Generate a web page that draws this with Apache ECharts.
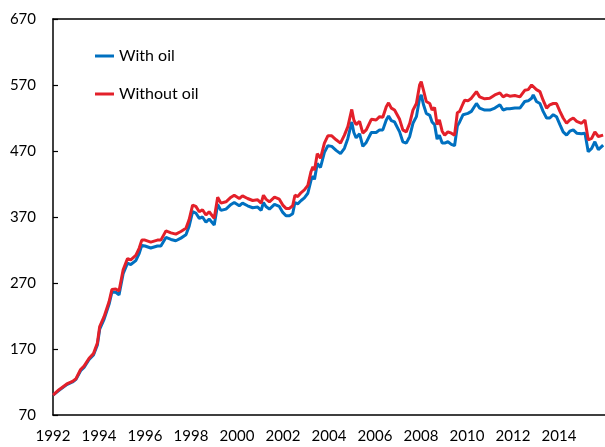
<!doctype html>
<html>

<head>
    <meta charset="utf-8">
    <title>With oil / Without oil</title>
    <script src="https://cdn.jsdelivr.net/npm/echarts@6/dist/echarts.min.js"></script>
</head>

<body style="margin:0;background:#fff;">
    <div id="container" style="width:605px;height:447px;"></div>
    <script type="text/javascript">
        // decimal years
        var years = [
            1992.00, 1992.25, 1992.60, 1992.85, 1993.00, 1993.20, 1993.35, 1993.57, 1993.76, 1993.93,
            1994.03, 1994.22, 1994.44, 1994.56, 1994.73, 1994.87, 1995.05, 1995.24, 1995.38, 1995.60,
            1995.75, 1995.86, 1996.00, 1996.25, 1996.54, 1996.69, 1996.91, 1997.13, 1997.34, 1997.56,
            1997.78, 1997.92, 1998.07, 1998.21, 1998.36, 1998.50, 1998.65, 1998.79, 1999.01, 1999.16,
            1999.30, 1999.52, 1999.74, 1999.88, 2000.10, 2000.24, 2000.46, 2000.68, 2000.90, 2001.05,
            2001.15, 2001.26, 2001.41, 2001.63, 2001.84, 2001.99, 2002.13, 2002.28, 2002.42, 2002.52,
            2002.64, 2002.79, 2002.93, 2003.08, 2003.22, 2003.30, 2003.37, 2003.49, 2003.63, 2003.80,
            2003.95, 2004.12, 2004.31, 2004.50, 2004.67, 2004.82, 2004.99, 2005.08, 2005.18, 2005.33,
            2005.47, 2005.62, 2005.84, 2006.05, 2006.20, 2006.34, 2006.49, 2006.59, 2006.71, 2006.85,
            2007.07, 2007.21, 2007.36, 2007.51, 2007.65, 2007.80, 2007.94, 2008.01, 2008.11, 2008.23,
            2008.38, 2008.48, 2008.59, 2008.70, 2008.80, 2008.92, 2009.03, 2009.17, 2009.32, 2009.46,
            2009.58, 2009.68, 2009.83, 2009.90, 2010.04, 2010.19, 2010.41, 2010.55, 2010.77, 2010.99,
            2011.21, 2011.43, 2011.57, 2011.72, 2011.86, 2012.08, 2012.30, 2012.51, 2012.66, 2012.81,
            2012.88, 2013.02, 2013.17, 2013.31, 2013.46, 2013.60, 2013.75, 2013.89, 2014.04, 2014.18,
            2014.33, 2014.47, 2014.62, 2014.77, 2014.98, 2015.13, 2015.27, 2015.42, 2015.56, 2015.71,
            2015.92
        ];
        var withOil = [
            100, 107, 116, 120, 124, 137, 142, 154, 161, 176,
            200, 215, 238, 256, 256, 252, 284, 300, 298, 304,
            315, 327, 326, 323, 326, 326, 339, 336, 334, 338,
            343, 356, 378, 376, 368, 370, 362, 367, 358, 389,
            380, 382, 389, 392, 387, 391, 387, 384, 385, 380,
            392, 386, 382, 389, 386, 377, 372, 372, 375, 392,
            390, 395, 399, 406, 426, 432, 427, 451, 445, 468,
            478, 477, 471, 466, 474, 489, 514, 498, 490, 496,
            477, 483, 498, 498, 502, 502, 517, 523, 516, 514,
            499, 484, 482, 492, 512, 522, 550, 555, 540, 527,
            524, 514, 510, 488, 494, 482, 482, 484, 480, 478,
            508, 514, 525, 527, 527, 530, 542, 535, 532, 532,
            535, 540, 532, 534, 534, 535, 535, 545, 546, 550,
            555, 545, 542, 530, 520, 520, 525, 522, 510, 499,
            494, 500, 502, 497, 496, 497, 469, 474, 484, 472,
            479
        ];
        var withoutOil = [
            100, 108, 117, 121, 125, 139, 144, 156, 163, 179,
            204, 219, 242, 260, 261, 258, 290, 307, 305, 312,
            323, 335, 335, 332, 335, 335, 349, 346, 344, 348,
            353, 366, 388, 386, 378, 381, 373, 378, 368, 400,
            391, 393, 400, 403, 398, 402, 398, 395, 396, 391,
            403, 397, 393, 400, 397, 388, 383, 383, 387, 403,
            401, 407, 411, 418, 439, 446, 441, 466, 459, 482,
            493, 493, 487, 482, 494, 507, 533, 517, 510, 515,
            497, 502, 518, 517, 522, 521, 537, 543, 535, 532,
            518, 502, 499, 512, 532, 542, 570, 575, 562, 545,
            542, 532, 536, 510, 517, 500, 494, 499, 497, 494,
            528, 530, 542, 547, 546, 550, 560, 552, 549, 550,
            555, 558, 552, 555, 553, 554, 552, 562, 563, 570,
            573, 563, 560, 547, 535, 540, 542, 542, 530, 520,
            512, 517, 520, 515, 512, 517, 487, 489, 499, 492,
            494
        ];
        var yTicks = [70, 170, 270, 370, 470, 570, 670];
        var xTicks = [1992, 1994, 1996, 1998, 2000, 2002, 2004, 2006, 2008, 2010, 2012, 2014];

        function pairs(vals) {
            var out = [];
            for (var i = 0; i < years.length; i++) {
                out.push([years[i], vals[i]]);
            }
            return out;
        }

        var font = 'Lato, "Open Sans", sans-serif';
        var option = {
            animation: false,
            backgroundColor: '#fff',
            grid: { left: 53, right: 0, top: 19, bottom: 32 },
            legend: {
                orient: 'vertical',
                left: 95,
                top: 47,
                padding: 0,
                itemWidth: 19,
                itemHeight: 3,
                itemGap: 20,
                icon: 'rect',
                textStyle: { fontFamily: font, fontSize: 16, color: '#000', lineHeight: 18 },
                data: ['With oil', 'Without oil']
            },
            xAxis: [{
                type: 'value',
                min: 1992,
                max: 2016,
                interval: 2,
                axisLine: { lineStyle: { color: '#000', width: 1.5 } },
                axisTick: { show: false },
                splitLine: { show: false },
                axisLabel: {
                    customValues: xTicks,
                    formatter: function (v) { return String(v); },
                    margin: 14,
                    fontFamily: font,
                    fontSize: 15,
                    color: '#000'
                }
            }, {
                // top border of the plot
                type: 'value',
                position: 'top',
                min: 1992,
                max: 2016,
                axisLine: { lineStyle: { color: '#000', width: 1.5 } },
                axisTick: { show: false },
                axisLabel: { show: false },
                splitLine: { show: false }
            }],
            yAxis: {
                type: 'value',
                min: 70,
                max: 670,
                axisLine: { show: true, lineStyle: { color: '#000', width: 1.5 } },
                axisTick: { show: true, inside: true, length: 5, customValues: yTicks, lineStyle: { color: '#000', width: 1.2 } },
                splitLine: { show: false },
                axisLabel: {
                    customValues: yTicks,
                    margin: 17,
                    fontFamily: font,
                    fontSize: 15,
                    color: '#000'
                }
            },
            series: [{
                name: 'With oil',
                type: 'line',
                data: pairs(withOil),
                showSymbol: false,
                symbol: 'none',
                color: '#0070C0',
                lineStyle: { width: 3, color: '#0070C0' }
            }, {
                name: 'Without oil',
                type: 'line',
                data: pairs(withoutOil),
                showSymbol: false,
                symbol: 'none',
                color: '#E3202A',
                lineStyle: { width: 3, color: '#E3202A' }
            }]
        };
        var myChart = echarts.init(document.getElementById('container'));
        myChart.setOption(option);
    </script>
</body>

</html>
